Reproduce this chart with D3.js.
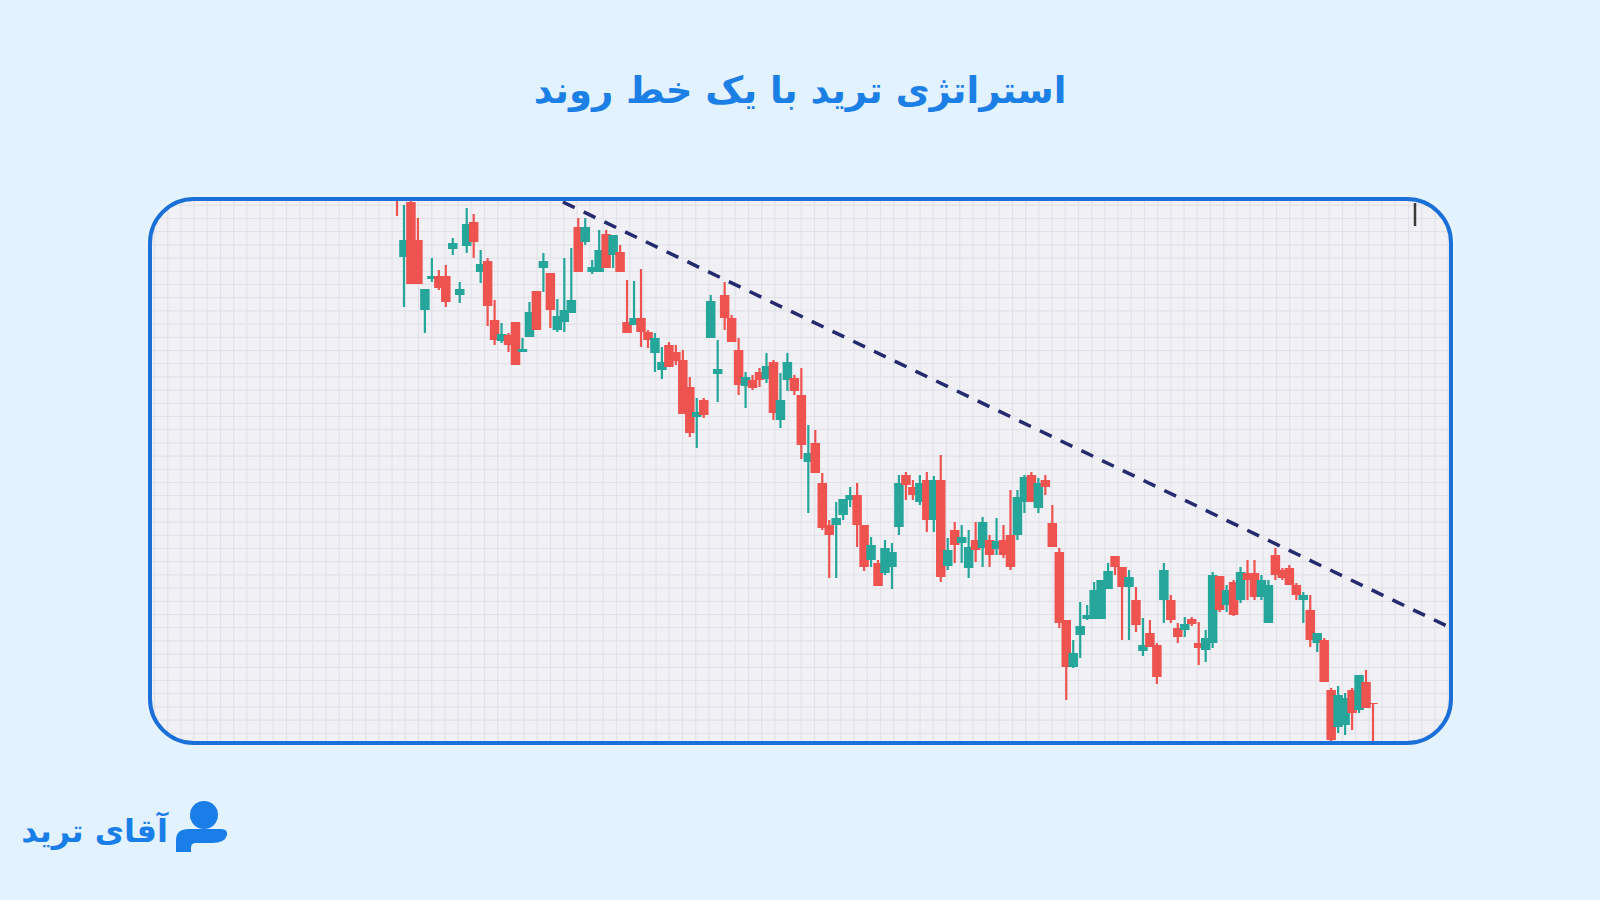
<!DOCTYPE html>
<html>
<head>
<meta charset="utf-8">
<script src="https://cdn.jsdelivr.net/npm/d3@7/dist/d3.min.js"></script>
<style>
html,body{margin:0;padding:0;background:#e2f2fe;}
svg{display:block;}
</style>
</head>
<body>
<svg id="chart" width="1600" height="900"></svg>
<script>
// ---- data (prices) ----
const titleText = "استراتژی ترید با یک خط روند";
const logoText = "آقای ترید";
const openP  = [801,743,798,760,690,721,724,724,751,705,754,778,728,739,680,659,665,678,648,663,709,732,727,670,678,687,773,758,728,728,766,745,748,678,675,682,668,647,630,655,648,640,613,583,600,662,626,705,682,650,614,620,628,621,638,580,620,622,605,538,557,517,475,475,485,500,505,475,440,437,427,433,473,525,513,498,520,480,520,434,470,457,432,460,452,460,451,460,465,465,498,525,492,520,477,448,380,333,365,381,381,381,411,444,433,413,400,349,367,355,400,400,372,370,381,357,350,357,424,395,418,400,427,427,403,377,445,430,432,415,400,390,357,360,310,273,275,310,290,318,297];
const highP  = [801,795,801,782,711,742,730,735,762,718,792,786,750,742,700,677,667,678,662,698,709,747,727,701,742,752,782,782,740,770,770,765,755,720,719,731,670,667,653,658,655,650,623,602,602,705,660,718,685,662,628,625,632,647,640,627,647,625,632,575,570,527,480,498,501,513,517,475,463,440,460,457,525,528,520,525,528,524,545,462,478,475,470,478,483,465,482,475,510,510,525,528,522,525,495,452,380,360,398,395,418,420,437,444,433,430,413,382,380,357,437,405,377,383,383,378,370,428,424,415,420,433,440,440,425,420,452,432,435,417,408,405,367,362,312,314,307,312,325,330,297];
const lowP   = [784,693,716,716,667,718,710,693,745,697,747,742,717,674,655,657,648,635,648,663,670,708,672,668,668,687,728,755,726,728,732,732,728,667,675,653,652,628,621,633,635,586,563,552,582,662,598,670,658,605,592,610,613,617,580,572,609,605,541,487,527,470,422,422,480,493,453,429,433,414,425,411,465,500,500,495,468,468,418,430,437,437,422,438,433,433,445,442,430,460,487,498,487,505,453,372,300,332,342,380,381,381,411,425,360,360,368,344,353,316,377,377,357,363,374,335,338,352,388,388,384,397,400,400,400,377,420,420,415,400,377,353,348,318,255,267,265,270,287,292,255];
const closeP = [800,760,716,716,711,724,712,698,757,711,776,758,736,694,660,666,655,635,651,688,670,739,690,684,690,700,728,773,733,750,732,765,728,667,682,668,660,662,638,633,639,586,567,588,585,699,631,682,658,615,623,612,620,634,587,600,638,609,555,547,527,472,465,482,501,505,475,433,455,414,452,448,517,515,505,517,480,520,423,450,455,463,453,450,478,445,459,445,433,503,523,498,517,513,453,377,333,347,374,385,410,420,429,433,413,423,375,355,353,323,430,380,363,376,376,352,362,425,390,410,385,428,420,403,420,415,425,422,415,405,405,360,367,318,260,305,302,287,325,292,296];
// trend line: [candle index, price] at its two ends
const trendIdx   = [23.8, 150.9];
const trendPrice = [798, 373];
const priceDomain = [257, 801];

const candles = openP.map((o,i)=>({i, o, h:highP[i], l:lowP[i], c:closeP[i]}));

// ---- layout ----
const svg = d3.select("#chart");
const frame = {x:150, y:199, w:1301, h:544, r:44};
const up = "#26a69a", down = "#ef5350";

const x = d3.scaleLinear().domain([0, candles.length-1]).range([397, 1373]);
const y = d3.scaleLinear().domain(priceDomain).range([frame.y+frame.h, frame.y]);

// title
svg.append("text")
  .attr("x", 800).attr("y", 103)
  .attr("text-anchor","middle")
  .attr("font-family","'DejaVu Sans', sans-serif")
  .attr("font-weight","bold")
  .attr("font-size", 37)
  .attr("fill","#1b7fe6")
  .text(titleText);

const defs = svg.append("defs");
defs.append("clipPath").attr("id","clipFrame")
  .append("rect")
  .attr("x",frame.x).attr("y",frame.y).attr("width",frame.w).attr("height",frame.h)
  .attr("rx",frame.r).attr("ry",frame.r);

const f = defs.append("filter").attr("id","glow").attr("x","-5%").attr("y","-5%").attr("width","110%").attr("height","110%");
f.append("feDropShadow").attr("dx",0).attr("dy",0).attr("stdDeviation",3).attr("flood-color","#ffffff").attr("flood-opacity",0.9);

// frame background
svg.append("rect")
  .attr("x",frame.x).attr("y",frame.y).attr("width",frame.w).attr("height",frame.h)
  .attr("rx",frame.r).attr("ry",frame.r)
  .attr("fill","#f0f0f5")
  .attr("filter","url(#glow)");

const inner = svg.append("g").attr("clip-path","url(#clipFrame)");

// grid
const step = 13.2;
const gx = d3.range(154.5, frame.x + frame.w, step);
const gy = d3.range(205.3, frame.y + frame.h, step);
inner.append("g").selectAll("line").data(gx).join("line")
  .attr("x1",d=>d).attr("x2",d=>d).attr("y1",frame.y).attr("y2",frame.y+frame.h)
  .attr("stroke","#e2e2ea").attr("stroke-width",1.2);
inner.append("g").selectAll("line").data(gy).join("line")
  .attr("y1",d=>d).attr("y2",d=>d).attr("x1",frame.x).attr("x2",frame.x+frame.w)
  .attr("stroke","#e2e2ea").attr("stroke-width",1.2);

// candles
const g = inner.append("g");
const bodyW = 9.5, wickW = 2.2;
const cg = g.selectAll("g.c").data(candles).join("g").attr("class","c");
cg.append("rect")
  .attr("x", d=>x(d.i)-wickW/2)
  .attr("width", wickW)
  .attr("y", d=>y(d.h))
  .attr("height", d=>Math.max(1, y(d.l)-y(d.h)))
  .attr("fill", d=>d.c>=d.o?up:down);
cg.append("rect")
  .attr("x", d=>x(d.i)-bodyW/2)
  .attr("width", bodyW)
  .attr("y", d=>y(Math.max(d.o,d.c)))
  .attr("height", d=>Math.max(1, Math.abs(y(d.o)-y(d.c))))
  .attr("fill", d=>d.c>=d.o?up:down);

// trend line
inner.append("line")
  .attr("x1", x(trendIdx[0])).attr("y1", y(trendPrice[0]))
  .attr("x2", x(trendIdx[1])).attr("y2", y(trendPrice[1]))
  .attr("stroke","#252a6e").attr("stroke-width",3.5)
  .attr("stroke-dasharray","13 10");

// small tick top right
inner.append("line")
  .attr("x1",1415).attr("x2",1415).attr("y1",203).attr("y2",226)
  .attr("stroke","#3a3a3a").attr("stroke-width",2.5);

// frame border
svg.append("rect")
  .attr("x",frame.x).attr("y",frame.y).attr("width",frame.w).attr("height",frame.h)
  .attr("rx",frame.r).attr("ry",frame.r)
  .attr("fill","none").attr("stroke","#1a6fd8").attr("stroke-width",4);

// logo
const logo = svg.append("g");
logo.append("circle").attr("cx",204).attr("cy",815).attr("r",14).attr("fill","#1a7ee8");
logo.append("path")
  .attr("d","M176,852 L176,840 Q176,829 189,829 L221,829 Q228,829 227,835 Q225,843 212,843 L196,843 Q191,843 191,848 L191,852 Z")
  .attr("fill","#1a7ee8");
logo.append("text")
  .attr("x",168).attr("y",842)
  .attr("text-anchor","end")
  .attr("font-family","'DejaVu Sans', sans-serif")
  .attr("font-weight","bold")
  .attr("font-size",32)
  .attr("fill","#1a7ee8")
  .text(logoText);
</script>
</body>
</html>
